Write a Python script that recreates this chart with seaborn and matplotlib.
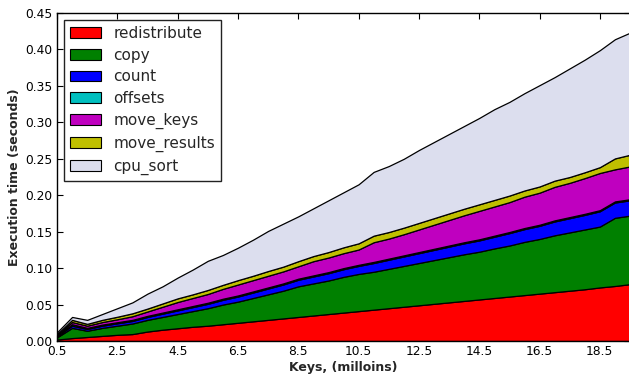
import matplotlib
matplotlib.use("Agg")
import matplotlib.pyplot as plt
from matplotlib.patches import Patch
import seaborn as sns
import numpy as np

keys = [0.5, 1.0, 1.5, 2.0, 2.5, 3.0, 3.5, 4.0, 4.5, 5.0, 5.5, 6.0, 6.5, 7.0, 7.5,
        8.0, 8.5, 9.0, 9.5, 10.0, 10.5, 11.0, 11.5, 12.0, 12.5, 13.0, 13.5, 14.0,
        14.5, 15.0, 15.5, 16.0, 16.5, 17.0, 17.5, 18.0, 18.5, 19.0, 19.5]

redistribute = [0.002, 0.004, 0.0055, 0.007, 0.0085, 0.0095, 0.013, 0.0155, 0.0175, 0.0195,
                0.021, 0.023, 0.025, 0.027, 0.029, 0.031, 0.033, 0.035, 0.037, 0.039,
                0.041, 0.043, 0.045, 0.047, 0.049, 0.051, 0.053, 0.055, 0.057, 0.059,
                0.061, 0.063, 0.065, 0.067, 0.069, 0.071, 0.0735, 0.0755, 0.078]
copy = [0.003, 0.014, 0.0085, 0.011, 0.0125, 0.0145, 0.016, 0.0175, 0.0195, 0.0215,
        0.024, 0.027, 0.029, 0.032, 0.035, 0.038, 0.042, 0.044, 0.046, 0.049,
        0.051, 0.052, 0.054, 0.056, 0.058, 0.060, 0.062, 0.064, 0.0655, 0.068,
        0.070, 0.073, 0.075, 0.078, 0.080, 0.082, 0.0835, 0.0935, 0.094]
count = [0.0015, 0.003, 0.0025, 0.003, 0.0033, 0.0035, 0.004, 0.0045, 0.005, 0.0055,
         0.006, 0.0065, 0.007, 0.0075, 0.008, 0.0085, 0.009, 0.0095, 0.010, 0.0105,
         0.011, 0.012, 0.0125, 0.013, 0.0135, 0.014, 0.0145, 0.015, 0.0155, 0.016,
         0.017, 0.0175, 0.018, 0.019, 0.0195, 0.020, 0.021, 0.021, 0.021]
offsets = [0.001, 0.002, 0.0015, 0.0015, 0.0015, 0.0015, 0.0015, 0.0015, 0.0015, 0.0015,
           0.0015, 0.0015, 0.0015, 0.0015, 0.0015, 0.0015, 0.0015, 0.0015, 0.0015, 0.0015,
           0.0015, 0.0015, 0.0015, 0.0015, 0.0015, 0.0015, 0.0015, 0.0015, 0.0015, 0.0015,
           0.0015, 0.0015, 0.0015, 0.0015, 0.0015, 0.0015, 0.0015, 0.0015, 0.0015]
move_keys = [0.001, 0.003, 0.003, 0.0035, 0.004, 0.005, 0.006, 0.008, 0.010, 0.011,
             0.012, 0.0135, 0.015, 0.0155, 0.016, 0.0165, 0.017, 0.0195, 0.020, 0.0205,
             0.021, 0.027, 0.0275, 0.029, 0.031, 0.033, 0.035, 0.037, 0.039, 0.040,
             0.041, 0.043, 0.044, 0.046, 0.047, 0.049, 0.051, 0.044, 0.045]
move_results = [0.001, 0.003, 0.0025, 0.003, 0.0035, 0.004, 0.004, 0.0045, 0.005, 0.005,
                0.0055, 0.0055, 0.006, 0.006, 0.0065, 0.0065, 0.007, 0.007, 0.0075, 0.008,
                0.0085, 0.009, 0.009, 0.009, 0.009, 0.009, 0.009, 0.009, 0.009, 0.009,
                0.009, 0.0085, 0.0085, 0.0085, 0.008, 0.008, 0.008, 0.015, 0.016]
cpu_sort = [0.0025, 0.004, 0.0055, 0.008, 0.0117, 0.015, 0.0205, 0.0235, 0.0285, 0.034,
            0.040, 0.041, 0.0445, 0.0495, 0.055, 0.059, 0.0615, 0.0655, 0.071, 0.0755,
            0.081, 0.0875, 0.0905, 0.0945, 0.100, 0.1045, 0.109, 0.1135, 0.1185, 0.1245,
            0.1285, 0.1335, 0.139, 0.142, 0.149, 0.1545, 0.1605, 0.1635, 0.1675]

series_names = ["redistribute", "copy", "count", "offsets", "move_keys",
                "move_results", "cpu_sort"]
x_ticks = [0.5, 2.5, 4.5, 6.5, 8.5, 10.5, 12.5, 14.5, 16.5, 18.5]
y_ticks = [0.00, 0.05, 0.10, 0.15, 0.20, 0.25, 0.30, 0.35, 0.40, 0.45]

colors = ["#ff0000", "#008000", "#0000ff", "#00bfbf", "#bf00bf", "#bfbf00", "#dcdeee"]

sns.set_style("ticks")
plt.rcParams["font.family"] = ["DejaVu Sans"]

fig = plt.figure(figsize=(6.29, 3.78), dpi=100)
ax = fig.add_axes([57 / 629, 37 / 378, 573 / 629, 328 / 378])

series = [redistribute, copy, count, offsets, move_keys, move_results, cpu_sort]
ax.stackplot(keys, *series, colors=colors, edgecolor="black", linewidth=0.9)

ax.set_xlim(0.5, 19.5)
ax.set_ylim(0, 0.45)
ax.set_xticks(x_ticks)
ax.set_xticklabels([f"{v:.1f}" for v in x_ticks])
ax.set_yticks(y_ticks)
ax.set_yticklabels([f"{v:.2f}" for v in y_ticks])
ax.tick_params(direction="in", top=True, right=True, length=4, width=0.8,
               labelsize=8.8, pad=3, colors="black")
for s in ax.spines.values():
    s.set_visible(True)
    s.set_color("black")
    s.set_linewidth(1.0)

ax.set_xlabel("Keys, (milloins)", fontsize=9, fontweight="bold", labelpad=2)
ax.set_ylabel("Execution time (seconds)", fontsize=9, fontweight="bold")
ax.yaxis.set_label_coords(-0.063, 0.5)

handles = [Patch(facecolor=c, edgecolor="black", linewidth=0.8) for c in colors]
leg = ax.legend(handles, series_names, loc="upper left", fontsize=11,
                frameon=True, fancybox=False, framealpha=1, edgecolor="#222222",
                handlelength=2.0, handleheight=0.7, labelspacing=0.44,
                borderaxespad=0.45, borderpad=0.4, handletextpad=0.85)
leg.get_frame().set_linewidth(1.0)

fig.savefig("out.png", dpi=100)
